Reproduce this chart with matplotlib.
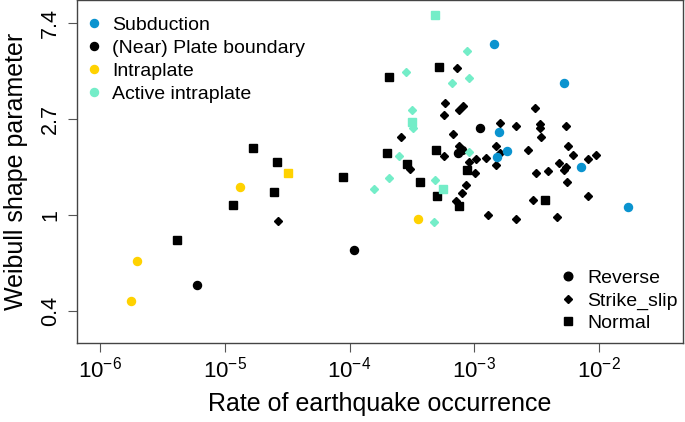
import numpy as np
import matplotlib.pyplot as plt
from matplotlib.lines import Line2D

plt.rcParams['font.family'] = ['Liberation Sans', 'DejaVu Sans']
plt.rcParams['mathtext.fontset'] = 'custom'
plt.rcParams['mathtext.rm'] = 'Liberation Sans'
plt.rcParams['mathtext.it'] = 'Liberation Sans:italic'
plt.rcParams['mathtext.bf'] = 'Liberation Sans:bold'

# Subduction (all reverse)
sub_rev_rate = [1.44e-3, 5.25e-3, 1.58e-3, 1.84e-3, 1.52e-3, 7.11e-3, 1.70e-2]
sub_rev_k = [5.92, 3.93, 2.36, 1.94, 1.82, 1.64, 1.08]

# (Near) plate boundary
pb_rev_rate = [1.11e-3, 7.91e-4, 7.43e-4, 1.09e-4, 5.98e-6]
pb_rev_k = [2.47, 1.97, 1.90, 0.691, 0.481]

pb_norm_rate = [1.68e-5, 2.64e-5, 2.48e-5, 1.17e-5, 4.16e-6, 8.83e-5, 2.07e-4, 5.18e-4,
                1.98e-4, 4.95e-4, 2.91e-4, 8.67e-4, 3.68e-4, 4.99e-4, 7.57e-4, 3.68e-3]
pb_norm_k = [2.00, 1.74, 1.27, 1.11, 0.771, 1.48, 4.18, 4.64,
             1.91, 1.97, 1.69, 1.59, 1.40, 1.21, 1.10, 1.16]

pb_ss_rate = [2.67e-5, 7.23e-4, 5.85e-4, 7.54e-4, 8.05e-4, 5.70e-4, 3.06e-3, 1.61e-3,
              2.16e-3, 3.36e-3, 3.37e-3, 5.42e-3, 2.56e-4, 6.76e-4, 3.39e-3, 7.47e-4,
              1.48e-3, 1.60e-3, 2.68e-3, 5.65e-3, 5.70e-4, 1.23e-3, 1.04e-3, 9.06e-4,
              1.48e-3, 6.22e-3, 9.42e-3, 8.18e-3, 4.79e-3, 5.44e-3, 5.20e-3, 3.05e-4,
              1.01e-3, 3.10e-3, 3.86e-3, 5.55e-3, 8.59e-4, 8.00e-4, 7.13e-4, 2.94e-3,
              8.18e-3, 1.29e-3, 2.14e-3, 4.59e-3]
pb_ss_k = [0.939, 4.60, 3.19, 2.99, 3.11, 2.83, 3.03, 2.59,
           2.51, 2.58, 2.47, 2.53, 2.24, 2.33, 2.24, 2.04,
           2.05, 1.91, 1.96, 2.04, 1.85, 1.81, 1.78, 1.73,
           1.67, 1.87, 1.86, 1.79, 1.72, 1.65, 1.60, 1.61,
           1.55, 1.55, 1.57, 1.41, 1.36, 1.26, 1.15, 1.17,
           1.21, 1.00, 0.96, 0.98]

# Intraplate
intra_rev_rate = [1.32e-5, 1.99e-6, 1.76e-6, 3.55e-4]
intra_rev_k = [1.33, 0.619, 0.407, 0.96]
intra_norm_rate = [3.21e-5]
intra_norm_k = [1.54]

# Active intraplate
act_norm_rate = [4.83e-4, 3.19e-4, 5.57e-4]
act_norm_k = [7.97, 2.63, 1.31]
act_ss_rate = [8.73e-4, 2.82e-4, 6.64e-4, 9.02e-4, 3.19e-4, 3.21e-4, 2.50e-4, 9.06e-4,
               2.06e-4, 1.57e-4, 4.83e-4, 4.74e-4]
act_ss_k = [5.48, 4.43, 3.93, 4.17, 2.98, 2.46, 1.84, 1.92,
            1.46, 1.31, 1.43, 0.930]

regions = ['Subduction', '(Near) Plate boundary', 'Intraplate', 'Active intraplate']
region_colors = ['#0a93cf', '#000000', '#ffd200', '#74edc8']
mechanisms = ['Reverse', 'Strike_slip', 'Normal']

yticks = [np.exp(-1), 1, np.exp(1), np.exp(2)]
ytick_labels = ['0.4', '1', '2.7', '7.4']

fig = plt.figure(figsize=(6.85, 4.22), dpi=100)
ax = fig.add_axes([0.1128, 0.1865, 0.8842, 0.8135])

blue, black, yellow, teal = region_colors
ms_o, ms_s, ms_d = 5.8, 5.6, 3.9
ax.plot(pb_ss_rate, pb_ss_k, 'D', color=black, ms=ms_d, ls='none')
ax.plot(pb_norm_rate, pb_norm_k, 's', color=black, ms=ms_s, ls='none')
ax.plot(pb_rev_rate, pb_rev_k, 'o', color=black, ms=ms_o, ls='none')
ax.plot(act_ss_rate, act_ss_k, 'D', color=teal, ms=ms_d, ls='none')
ax.plot(act_norm_rate, act_norm_k, 's', color=teal, ms=ms_s, ls='none')
ax.plot(intra_rev_rate, intra_rev_k, 'o', color=yellow, ms=ms_o, ls='none')
ax.plot(intra_norm_rate, intra_norm_k, 's', color=yellow, ms=ms_s, ls='none')
ax.plot(sub_rev_rate, sub_rev_k, 'o', color=blue, ms=ms_o, ls='none')

ax.set_xscale('log')
ax.set_yscale('log')
ax.set_xlim(6.58e-7, 0.0469)
ax.set_ylim(0.262, 9.36)
ax.set_xticks([1e-6, 1e-5, 1e-4, 1e-3, 1e-2])
ax.xaxis.set_minor_locator(plt.NullLocator())
ax.yaxis.set_minor_locator(plt.NullLocator())
ax.set_yticks(yticks)
ax.set_yticklabels(ytick_labels, rotation=90, va='center')
ax.tick_params(axis='x', labelsize=16, length=6.5, color='#555555', pad=3)
ax.tick_params(axis='y', labelsize=15.5, length=6.5, color='#555555', pad=5)
for s in ax.spines.values():
    s.set_color('#444444')
    s.set_linewidth(1.0)

ax.set_xlabel('Rate of earthquake occurrence', fontsize=18, labelpad=7)
ax.set_ylabel('Weibull shape parameter', fontsize=18, labelpad=9)

h1 = [Line2D([], [], marker='o', ls='none', color=c, ms=5.8) for c in region_colors]
leg1 = ax.legend(h1, regions, loc='upper left', bbox_to_anchor=(0.0116, 0.952),
                 frameon=False, fontsize=14, handlelength=1.0, handletextpad=0.43,
                 labelspacing=0.27, borderpad=0, borderaxespad=0)
ax.add_artist(leg1)
h2 = [Line2D([], [], marker=m, ls='none', color='black', ms=s)
      for m, s in zip(['o', 'D', 's'], [6.2, 4.2, 5.8])]
ax.legend(h2, mechanisms, loc='upper left', bbox_to_anchor=(0.794, 0.215),
          frameon=False, fontsize=14, handlelength=1.0, handletextpad=0.48,
          labelspacing=0.24, borderpad=0, borderaxespad=0)

fig.savefig('out.png', dpi=100)
